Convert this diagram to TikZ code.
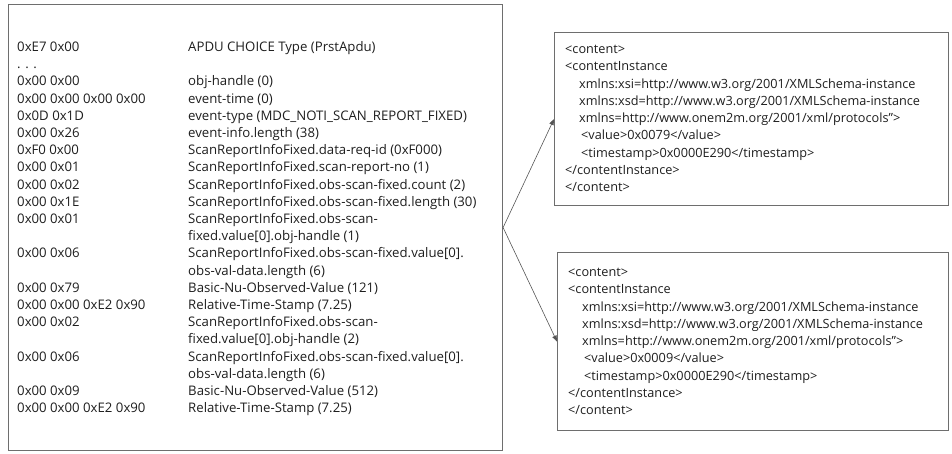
\documentclass[tikz,border=0pt]{standalone}
\usepackage{fontspec}
\setmainfont{Open Sans}
\usetikzlibrary{arrows.meta}
\definecolor{boxgray}{HTML}{6E6E6E}
\definecolor{arrgray}{HTML}{555555}
\definecolor{txtcol}{HTML}{1E1E1E}
\begin{document}
\begin{tikzpicture}[x=1pt,y=-1pt,
  box/.style={draw=boxgray, line width=1.1pt, anchor=north west, inner sep=0pt},
  txt/.style={anchor=base west, inner sep=0pt, text=txtcol, font=\fontsize{13.2}{15}\selectfont},
  xml/.style={txt, font=\fontsize{12.7}{15}\selectfont},
  arr/.style={draw=arrgray, line width=0.6pt, -{Triangle[length=6pt,width=4.5pt]}}]
\useasboundingbox (0,0) rectangle (952,453);
% boxes
\node[box, minimum width=494pt, minimum height=446pt] (L) at (8,4) {};
\node[box, minimum width=394pt, minimum height=173pt] (T) at (554,32) {};
\node[box, minimum width=391pt, minimum height=178pt] (B) at (557,252) {};
% left column: hex codes
\node[txt] (h0)  at (17,51.5)  {0xE7 0x00};
\node[txt] (h1)  at (17,68.7)  {. . .};
\node[txt] (h2)  at (17,85.9)  {0x00 0x00};
\node[txt] (h3)  at (17,103.1) {0x00 0x00 0x00 0x00};
\node[txt] (h4)  at (17,120.3) {0x0D 0x1D};
\node[txt] (h5)  at (17,137.5) {0x00 0x26};
\node[txt] (h6)  at (17,154.7) {0xF0 0x00};
\node[txt] (h7)  at (17,171.9) {0x00 0x01};
\node[txt] (h8)  at (17,189.1) {0x00 0x02};
\node[txt] (h9)  at (17,206.3) {0x00 0x1E};
\node[txt] (h10) at (17,223.5) {0x00 0x01};
\node[txt] (h12) at (17,257.9) {0x00 0x06};
\node[txt] (h14) at (17,292.3) {0x00 0x79};
\node[txt] (h15) at (17,309.5) {0x00 0x00 0xE2 0x90};
\node[txt] (h16) at (17,326.7) {0x00 0x02};
\node[txt] (h18) at (17,361.1) {0x00 0x06};
\node[txt] (h20) at (17,395.5) {0x00 0x09};
\node[txt] (h21) at (17,412.7) {0x00 0x00 0xE2 0x90};
% left column: descriptions
\node[txt] (d0)  at (188,51.5)  {APDU CHOICE Type (PrstApdu)};
\node[txt] (d2)  at (188,85.9)  {obj-handle (0)};
\node[txt] (d3)  at (188,103.1) {event-time (0)};
\node[txt] (d4)  at (188,120.3) {event-type (MDC\_NOTI\_SCAN\_REPORT\_FIXED)};
\node[txt] (d5)  at (188,137.5) {event-info.length (38)};
\node[txt] (d6)  at (188,154.7) {ScanReportInfoFixed.data-req-id (0xF000)};
\node[txt] (d7)  at (188,171.9) {ScanReportInfoFixed.scan-report-no (1)};
\node[txt] (d8)  at (188,189.1) {ScanReportInfoFixed.obs-scan-fixed.count (2)};
\node[txt] (d9)  at (188,206.3) {ScanReportInfoFixed.obs-scan-fixed.length (30)};
\node[txt] (d10) at (188,223.5) {ScanReportInfoFixed.obs-scan-};
\node[txt] (d11) at (188,240.7) {fixed.value[0].obj-handle (1)};
\node[txt] (d12) at (188,257.9) {ScanReportInfoFixed.obs-scan-fixed.value[0].};
\node[txt] (d13) at (188,275.1) {obs-val-data.length (6)};
\node[txt] (d14) at (188,292.3) {Basic-Nu-Observed-Value (121)};
\node[txt] (d15) at (188,309.5) {Relative-Time-Stamp (7.25)};
\node[txt] (d16) at (188,326.7) {ScanReportInfoFixed.obs-scan-};
\node[txt] (d17) at (188,343.9) {fixed.value[0].obj-handle (2)};
\node[txt] (d18) at (188,361.1) {ScanReportInfoFixed.obs-scan-fixed.value[0].};
\node[txt] (d19) at (188,378.3) {obs-val-data.length (6)};
\node[txt] (d20) at (188,395.5) {Basic-Nu-Observed-Value (512)};
\node[txt] (d21) at (188,412.7) {Relative-Time-Stamp (7.25)};
% top right box text
\node[xml] (t0) at (565,53.5)   {<content>};
\node[xml] (t1) at (565,70.75)  {<contentInstance};
\node[xml] (t2) at (579,88)     {xmlns:xsi=http://www.w3.org/2001/XMLSchema-instance};
\node[xml] (t3) at (579,105.25) {xmlns:xsd=http://www.w3.org/2001/XMLSchema-instance};
\node[xml] (t4) at (579,122.5)  {xmlns=http://www.onem2m.org/2001/xml/protocols”>};
\node[xml] (t5) at (581,139.75) {<value>0x0079</value>};
\node[xml] (t6) at (581,157)    {<timestamp>0x0000E290</timestamp>};
\node[xml] (t7) at (565,174.25) {</contentInstance>};
\node[xml] (t8) at (565,191.5)  {</content>};
% bottom right box text
\node[xml] (b0) at (568,276.5)  {<content>};
\node[xml] (b1) at (568,293.75) {<contentInstance};
\node[xml] (b2) at (582,311)    {xmlns:xsi=http://www.w3.org/2001/XMLSchema-instance};
\node[xml] (b3) at (582,328.25) {xmlns:xsd=http://www.w3.org/2001/XMLSchema-instance};
\node[xml] (b4) at (582,345.5)  {xmlns=http://www.onem2m.org/2001/xml/protocols”>};
\node[xml] (b5) at (584,362.75) {<value>0x0009</value>};
\node[xml] (b6) at (584,380)    {<timestamp>0x0000E290</timestamp>};
\node[xml] (b7) at (568,397.25) {</contentInstance>};
\node[xml] (b8) at (568,414.5)  {</content>};
% connectors
\draw[arr] (L.east) -- (T.west);
\draw[arr] (L.east) -- (B.west);
\end{tikzpicture}
\end{document}
